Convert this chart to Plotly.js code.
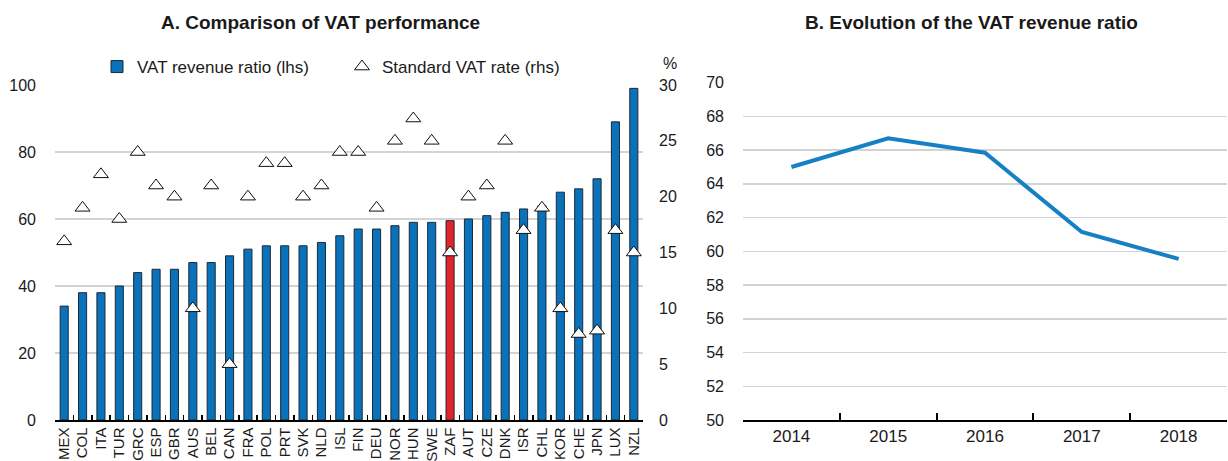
<!DOCTYPE html>
<html>
<head>
<meta charset="utf-8">
<script src="https://cdn.plot.ly/plotly-3.0.1.min.js"></script>
<style>
  html, body { margin: 0; padding: 0; background: #ffffff; }
  #chart { width: 1228px; height: 461px; }
</style>
</head>
<body>
<div id="chart"></div>
<script>
// ---- Panel A data ----
const countries = ["MEX","COL","ITA","TUR","GRC","ESP","GBR","AUS","BEL","CAN","FRA","POL","PRT","SVK","NLD","ISL","FIN","DEU","NOR","HUN","SWE","ZAF","AUT","CZE","DNK","ISR","CHL","KOR","CHE","JPN","LUX","NZL"];
const vatRevenueRatio = [34,38,38,40,44,45,45,47,47,49,51,52,52,52,53,55,57,57,58,59,59,59.5,60,61,62,63,64,68,69,72,89,99];
const standardVatRate = [16,19,22,18,24,21,20,10,21,5,20,23,23,20,21,24,24,19,25,27,25,15,20,21,25,17,19,10,7.7,8,17,15];
const highlightCountry = "ZAF";

// ---- Panel B data ----
const years = ["2014","2015","2016","2017","2018"];
const vatRevenueRatioSA = [65.0,66.7,65.85,61.15,59.55];

// ---- Ticks ----
const leftTicks = [0,20,40,60,80,100];
const rightTicks = [0,5,10,15,20,25,30];
const panelBTicks = [50,52,54,56,58,60,62,64,66,68,70];

const FONT = "'Liberation Sans', Arial, sans-serif";
const BLUE = "#0a72ba";
const RED = "#e0242a";
const GRID = "#d3d3d3";
const TXT = "#1a1a1a";

const barColors = countries.map(c => c === highlightCountry ? RED : BLUE);

const W = 1228, H = 461;
const px = v => v / W;
const py = v => (H - v) / H;

const traces = [
  {
    type: "bar",
    name: "VAT revenue ratio (lhs)",
    x: countries,
    y: vatRevenueRatio,
    xaxis: "x", yaxis: "y",
    marker: { color: barColors, line: { color: "#1e2935", width: 1 } },
    showlegend: true
  },
  {
    type: "scatter",
    mode: "markers",
    name: "Standard VAT rate (rhs)",
    x: countries,
    y: standardVatRate,
    xaxis: "x", yaxis: "y2",
    marker: { symbol: "triangle-up", size: 13, color: "#ffffff", line: { color: "#111111", width: 1 } },
    showlegend: true
  },
  {
    type: "scatter",
    mode: "lines",
    name: "VAT revenue ratio",
    x: years,
    y: vatRevenueRatioSA,
    xaxis: "x2", yaxis: "y3",
    line: { color: "#1580c4", width: 4 },
    showlegend: false
  }
];

const layout = {
  width: W, height: H,
  margin: { l: 0, r: 0, t: 0, b: 0 },
  paper_bgcolor: "#ffffff",
  plot_bgcolor: "rgba(0,0,0,0)",
  font: { family: FONT, size: 16, color: TXT },
  bargap: 0.56,
  showlegend: true,
  legend: {
    orientation: "h",
    x: px(97), xanchor: "left",
    y: py(67), yanchor: "middle",
    bgcolor: "rgba(0,0,0,0)",
    font: { family: FONT, size: 17, color: TXT },
    entrywidth: 200, entrywidthmode: "pixels",
    traceorder: "normal"
  },
  xaxis: {
    domain: [px(55), px(643)],
    anchor: "y",
    type: "category",
    range: [-0.5, countries.length - 0.5],
    tickmode: "linear", tick0: 0, dtick: 1,
    tickangle: -90,
    tickfont: { family: FONT, size: 15, color: TXT },
    ticklabelstandoff: 0,
    ticks: "inside", ticklen: 5, tickcolor: "#000", tickwidth: 1.5,
    tickson: "boundaries",
    showline: true, linecolor: "#000", linewidth: 1.5,
    showgrid: false, zeroline: false,
    fixedrange: true
  },
  yaxis: {
    domain: [py(420), py(85)],
    anchor: "x",
    range: [0, 100],
    tickvals: leftTicks,
    ticktext: leftTicks.map(String),
    ticks: "", showline: false, zeroline: false,
    showgrid: true, gridcolor: GRID, gridwidth: 1.5,
    ticklabelstandoff: 18,
    tickfont: { family: FONT, size: 16, color: TXT },
    fixedrange: true
  },
  yaxis2: {
    overlaying: "y",
    side: "right",
    anchor: "x",
    range: [0, 30],
    tickvals: rightTicks,
    ticktext: rightTicks.map(String),
    ticks: "", showline: false, zeroline: false, showgrid: false,
    ticklabelstandoff: 15,
    tickfont: { family: FONT, size: 16, color: TXT },
    fixedrange: true
  },
  xaxis2: {
    domain: [px(743), px(1227)],
    anchor: "y3",
    type: "category",
    range: [-0.5, years.length - 0.5],
    tickmode: "linear", tick0: 0, dtick: 1,
    tickfont: { family: FONT, size: 17, color: TXT },
    ticks: "inside", ticklen: 7, tickcolor: "#000", tickwidth: 2,
    tickson: "boundaries",
    showline: true, linecolor: "#000", linewidth: 2,
    showgrid: false, zeroline: false,
    fixedrange: true
  },
  yaxis3: {
    domain: [py(420), py(82.7)],
    anchor: "x2",
    range: [50, 70],
    tickvals: panelBTicks,
    ticktext: panelBTicks.map(String),
    ticks: "", showline: false, zeroline: false,
    showgrid: true, gridcolor: GRID, gridwidth: 1.5,
    ticklabelstandoff: 18,
    tickfont: { family: FONT, size: 16, color: TXT },
    fixedrange: true
  },
  annotations: [
    { text: "<b>A. Comparison of VAT performance</b>", xref: "paper", yref: "paper",
      x: px(320), y: py(22), xanchor: "center", yanchor: "middle", showarrow: false,
      font: { family: FONT, size: 19, color: TXT } },
    { text: "<b>B. Evolution of the VAT revenue ratio</b>", xref: "paper", yref: "paper",
      x: px(971), y: py(22), xanchor: "center", yanchor: "middle", showarrow: false,
      font: { family: FONT, size: 19, color: TXT } },
    { text: "%", xref: "paper", yref: "paper",
      x: px(661), y: py(63), xanchor: "left", yanchor: "middle", showarrow: false,
      font: { family: FONT, size: 16, color: TXT } }
  ]
};

Plotly.newPlot("chart", traces, layout, { displayModeBar: false, staticPlot: true });
</script>
</body>
</html>
